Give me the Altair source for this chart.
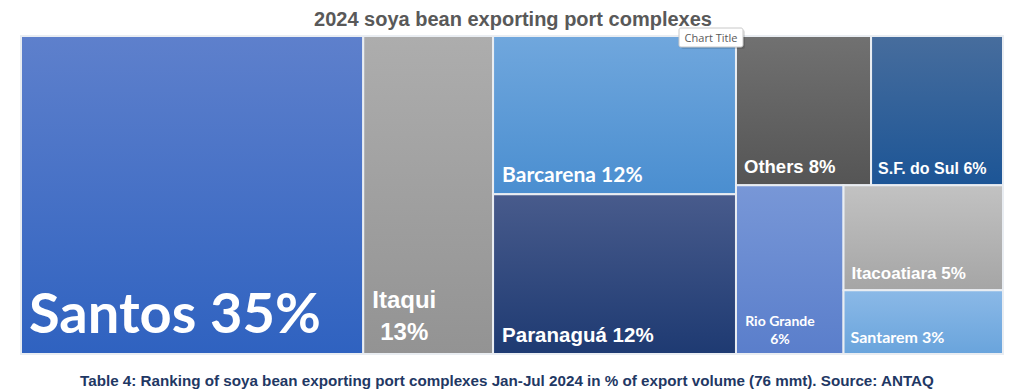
import altair as alt
import pandas as pd

# ---- data ----
names = ["Santos", "Itaqui", "Barcarena", "Paranaguá", "Others",
         "S.F. do Sul", "Rio Grande", "Itacoatiara", "Santarem"]
# tile area shares (% of total area)
shares = [34.8, 13.2, 12.3, 12.4, 6.45, 6.3, 5.8, 5.35, 3.25]
labels = ["Santos 35%", "Itaqui\n13%", "Barcarena 12%", "Paranaguá 12%",
          "Others 8%", "S.F. do Sul 6%", "Rio Grande\n6%", "Itacoatiara 5%",
          "Santarem 3%"]
TITLE = "2024 soya bean exporting port complexes"
CAPTION = ("Table 4: Ranking of soya bean exporting port complexes Jan-Jul 2024 "
           "in % of export volume (76 mmt). Source: ANTAQ")

# ---- treemap nesting (slice orientation of each group) ----
TREE = ("h", ["Santos", "Itaqui",
              ("v", ["Barcarena", "Paranaguá"]),
              ("v", [("h", ["Others", "S.F. do Sul"]),
                     ("h", ["Rio Grande", ("v", ["Itacoatiara", "Santarem"])])])])

share_of = dict(zip(names, shares))


def weight(node):
    if isinstance(node, str):
        return share_of[node]
    return sum(weight(k) for k in node[1])


def place(node, x0, y0, x1, y1, out):
    if isinstance(node, str):
        out[node] = (x0, y0, x1, y1)
        return
    orient, kids = node
    total = sum(weight(k) for k in kids)
    pos = x0 if orient == "h" else y0
    for k in kids:
        frac = weight(k) / total
        if orient == "h":
            nxt = pos + (x1 - x0) * frac
            place(k, pos, y0, nxt, y1, out)
        else:
            nxt = pos + (y1 - y0) * frac
            place(k, x0, pos, x1, nxt, out)
        pos = nxt


rects = {}
place(TREE, 0, 0, 100, 100, rects)
df = pd.DataFrame({
    "name": names,
    "label": labels,
    "x0": [rects[n][0] for n in names],
    "y0": [rects[n][1] for n in names],
    "x1": [rects[n][2] for n in names],
    "y1": [rects[n][3] for n in names],
})

ARIAL = "Liberation Sans"
CALIBRI = "Lato"
styles = {
    "Santos":      dict(c=("#5E80CC", "#2F62C0"), font=CALIBRI, size=56, dx=8, dy=-21, align="left", lh=0),
    "Itaqui":      dict(c=("#ADADAD", "#939393"), font=ARIAL, size=24, dx=41, dy=-46, align="center", lh=32),
    "Barcarena":   dict(c=("#70A7DD", "#4A8ED0"), font=CALIBRI, size=21, dx=9, dy=-12, align="left", lh=0),
    "Paranaguá":   dict(c=("#485B8C", "#1E3A72"), font=ARIAL, size=20.5, dx=9, dy=-12, align="left", lh=0),
    "Others":      dict(c=("#717171", "#555555"), font=ARIAL, size=18.5, dx=8, dy=-12, align="left", lh=0),
    "S.F. do Sul": dict(c=("#476D9D", "#1C5596"), font=ARIAL, size=16, dx=7, dy=-11, align="left", lh=0),
    "Rio Grande":  dict(c=("#7897D7", "#5A7ECB"), font=CALIBRI, size=14, dx=44, dy=-28, align="center", lh=18),
    "Itacoatiara": dict(c=("#C2C2C2", "#A5A5A5"), font=ARIAL, size=17, dx=8, dy=-11, align="left", lh=0),
    "Santarem":    dict(c=("#8BB9E7", "#69A4DC"), font=CALIBRI, size=16, dx=7, dy=-11, align="left", lh=0),
}

xs = alt.Scale(domain=[0, 100])
ys = alt.Scale(domain=[0, 100], reverse=True)

base = alt.Chart(df)
layers = []
for n in names:
    s = styles[n]
    grad = alt.Gradient(gradient="linear", x1=0, x2=0, y1=0, y2=1,
                        stops=[alt.GradientStop(color=s["c"][0], offset=0),
                               alt.GradientStop(color=s["c"][1], offset=1)])
    layers.append(
        base.transform_filter(alt.datum.name == n)
        .mark_rect(color=grad, stroke="#E9EDF2", strokeWidth=2)
        .encode(x=alt.X("x0:Q", scale=xs, axis=None), x2="x1:Q",
                y=alt.Y("y0:Q", scale=ys, axis=None), y2="y1:Q")
    )
for n in names:
    s = styles[n]
    kw = dict(align=s["align"], baseline="alphabetic", dx=s["dx"], dy=s["dy"],
              font=s["font"], fontSize=s["size"], fontWeight="bold",
              color="white", lineBreak="\n")
    if s["lh"]:
        kw["lineHeight"] = s["lh"]
    layers.append(
        base.transform_filter(alt.datum.name == n)
        .mark_text(**kw)
        .encode(x=alt.X("x0:Q", scale=xs, axis=None),
                y=alt.Y("y1:Q", scale=ys, axis=None),
                text="label:N")
    )

one = alt.Chart(pd.DataFrame({"k": [0]}))
title = one.mark_text(text=TITLE, font=ARIAL, fontSize=20, fontWeight="bold",
                      color="#595959", align="center", baseline="alphabetic"
                      ).encode(x=alt.value(492), y=alt.value(-10))
caption = one.mark_text(text=CAPTION, font=ARIAL, fontSize=15.2, fontWeight="bold",
                        color="#1F3864", align="center", baseline="alphabetic"
                        ).encode(x=alt.value(486), y=alt.value(350))
tip_shadow = one.mark_rect(fill="#000000", opacity=0.12, cornerRadius=2).encode(
    x=alt.value(660), x2=alt.value(724), y=alt.value(-6), y2=alt.value(13))
tip_box = one.mark_rect(fill="white", stroke="#C8C8C8", strokeWidth=1, cornerRadius=2).encode(
    x=alt.value(658), x2=alt.value(722), y=alt.value(-8), y2=alt.value(11))
tip_text = one.mark_text(text="Chart Title", font="Open Sans", fontSize=11,
                         color="#595959", align="center", baseline="alphabetic"
                         ).encode(x=alt.value(690), y=alt.value(6))

chart = alt.layer(*layers, title, caption, tip_shadow, tip_box, tip_text).properties(
    width=982, height=318,
    padding={"left": 13, "right": 13, "top": 28, "bottom": 37},
    autosize=alt.AutoSizeParams(type="none"),
    background="white",
).configure_view(stroke=None)

chart.save("out.html", embed_options={"renderer": "svg", "actions": False})
